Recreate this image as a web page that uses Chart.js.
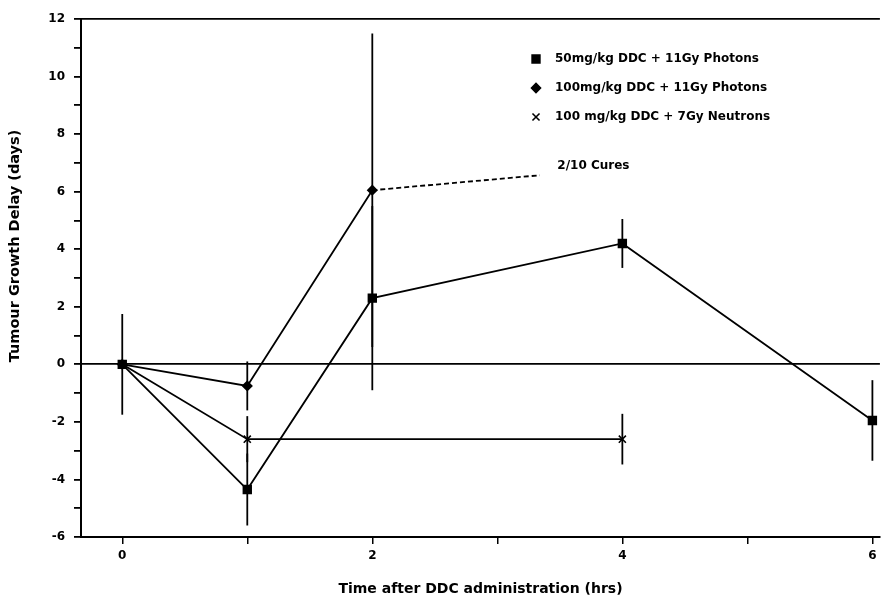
<!DOCTYPE html>
<html>
<head>
<meta charset="utf-8">
<script src="https://cdn.jsdelivr.net/npm/chart.js@4/dist/chart.umd.min.js"></script>
<style>
  html, body { margin: 0; padding: 0; background: #fff; overflow: hidden; }
  canvas { display: block; }
</style>
</head>
<body>
<canvas id="delay-chart" width="887" height="600"></canvas>
<script>
// values
const seriesLabels = [
    '50mg/kg DDC + 11Gy Photons',
    '100mg/kg DDC + 11Gy Photons',
    '100 mg/kg DDC + 7Gy Neutrons',
];
const photons50X = [0, 1, 2, 4, 6];
const photons50Y = [0, -4.35, 2.3, 4.2, -1.95];
const photons50Err = [1.75, 1.25, 3.2, 0.85, 1.4];

const photons100X = [0, 1, 2];
const photons100Y = [0, -0.75, 6.05];
const photons100Err = [0, 0.85, 5.45];

const neutronsX = [0, 1, 4];
const neutronsY = [0, -2.6, -2.6];
const neutronsErr = [0, 0.8, 0.88];

const curesX = [2, 3.34];
const curesY = [6.05, 6.57];
const curesLabel = '2/10 Cures';

const xTicks = [0, 1, 2, 3, 4, 5, 6];
const xTitle = 'Time after DDC administration (hrs)';
const yTitle = 'Tumour Growth Delay (days)';

const FONT = '"DejaVu Sans", "Liberation Sans", Arial, sans-serif';

function toPoints(xs, ys) {
    return xs.map((x, i) => ({ x, y: ys[i] }));
}

const errorBars = {
    id: 'errorBars',
    afterDatasetsDraw(chart) {
        const { ctx, scales: { x, y } } = chart;
        ctx.save();
        ctx.strokeStyle = '#000';
        ctx.lineWidth = 1.8;
        chart.data.datasets.forEach((ds) => {
            if (!ds.err) return;
            ds.data.forEach((p, i) => {
                const e = ds.err[i];
                if (!e) return;
                const px = x.getPixelForValue(p.x);
                ctx.beginPath();
                ctx.moveTo(px, y.getPixelForValue(p.y + e));
                ctx.lineTo(px, y.getPixelForValue(p.y - e));
                ctx.stroke();
            });
        });
        ctx.restore();
    },
};

const extras = {
    id: 'extras',
    afterDraw(chart) {
        const { ctx, chartArea, scales: { x, y } } = chart;
        ctx.save();
        ctx.fillStyle = '#000';
        ctx.strokeStyle = '#000';

        // legend inside the plot
        const legendX = chartArea.left + 455;
        const legendTop = chartArea.top + 40;
        ctx.font = 'bold 12px ' + FONT;
        ctx.textBaseline = 'middle';
        ctx.textAlign = 'left';
        chart.data.datasets.forEach((ds, i) => {
            if (!ds.err) return;
            const ly = legendTop + i * 29;
            ctx.lineWidth = 1.6;
            Chart.helpers.drawPoint(ctx, { pointStyle: ds.pointStyle, radius: ds.pointRadius, borderWidth: 1.6 }, legendX, ly);
            ctx.fill();
            ctx.fillText(ds.label, legendX + 19, ly);
        });

        // cures note
        ctx.font = 'bold 12px ' + FONT;
        ctx.fillText(curesLabel, x.getPixelForValue(3.48), y.getPixelForValue(6.9));

        // y title
        ctx.font = 'bold 14.5px ' + FONT;
        ctx.textAlign = 'center';
        ctx.translate(15, 246);
        ctx.rotate(-Math.PI / 2);
        ctx.fillText(yTitle, 0, 0);
        ctx.restore();
    },
};

const markerBase = {
    borderColor: '#000',
    backgroundColor: '#000',
    pointBackgroundColor: '#000',
    pointBorderColor: '#000',
    borderWidth: 1.8,
    pointBorderWidth: 1.6,
    tension: 0,
    fill: false,
};

new Chart(document.getElementById('delay-chart'), {
    type: 'scatter',
    data: {
        datasets: [
            {
                ...markerBase,
                label: seriesLabels[0],
                data: toPoints(photons50X, photons50Y),
                err: photons50Err,
                showLine: true,
                pointStyle: 'rect',
                pointRadius: 5.5,
            },
            {
                ...markerBase,
                label: seriesLabels[1],
                data: toPoints(photons100X, photons100Y),
                err: photons100Err,
                showLine: true,
                pointStyle: 'rectRot',
                pointRadius: 4.5,
            },
            {
                ...markerBase,
                label: seriesLabels[2],
                data: toPoints(neutronsX, neutronsY),
                err: neutronsErr,
                showLine: true,
                pointStyle: 'crossRot',
                pointRadius: 5,
            },
            {
                ...markerBase,
                label: curesLabel,
                data: toPoints(curesX, curesY),
                showLine: true,
                borderDash: [5, 3],
                pointRadius: 0,
            },
        ],
    },
    options: {
        responsive: false,
        animation: false,
        layout: { padding: { top: 19, right: 3, bottom: 0, left: 0 } },
        plugins: {
            legend: { display: false },
            tooltip: { enabled: false },
        },
        scales: {
            x: {
                type: 'linear',
                min: -0.33,
                max: 6.06,
                afterBuildTicks: (scale) => {
                    scale.ticks = xTicks.map((v) => ({ value: v }));
                },
                afterFit: (scale) => {
                    scale.height = 63;
                    scale.paddingLeft = 0;
                    scale.paddingRight = 0;
                },
                border: { color: '#000', width: 2 },
                grid: {
                    drawOnChartArea: false,
                    tickColor: '#000',
                    tickLength: 7,
                    lineWidth: 1.5,
                },
                ticks: {
                    color: '#000',
                    padding: 5,
                    maxRotation: 0,
                    autoSkip: false,
                    font: { family: FONT, size: 12, weight: 'bold' },
                    callback: (v) => (v % 2 === 0 ? v : ''),
                },
                title: {
                    display: true,
                    text: xTitle,
                    color: '#000',
                    font: { family: FONT, size: 14, weight: 'bold' },
                    padding: { top: 0, bottom: 2 },
                },
            },
            y: {
                min: -6,
                max: 12,
                afterFit: (scale) => {
                    scale.width = 81;
                },
                border: { color: '#000', width: 2 },
                grid: {
                    color: (ctx) => (ctx.tick && (ctx.tick.value === 0 || ctx.tick.value === 12) ? '#000' : 'rgba(0,0,0,0)'),
                    lineWidth: 1.8,
                    tickColor: '#000',
                    tickLength: 7,
                },
                ticks: {
                    stepSize: 1,
                    color: '#000',
                    padding: 9,
                    font: { family: FONT, size: 12, weight: 'bold' },
                    callback: (v) => (v % 2 === 0 ? v : ''),
                },
            },
        },
    },
    plugins: [errorBars, extras],
});
</script>
</body>
</html>
